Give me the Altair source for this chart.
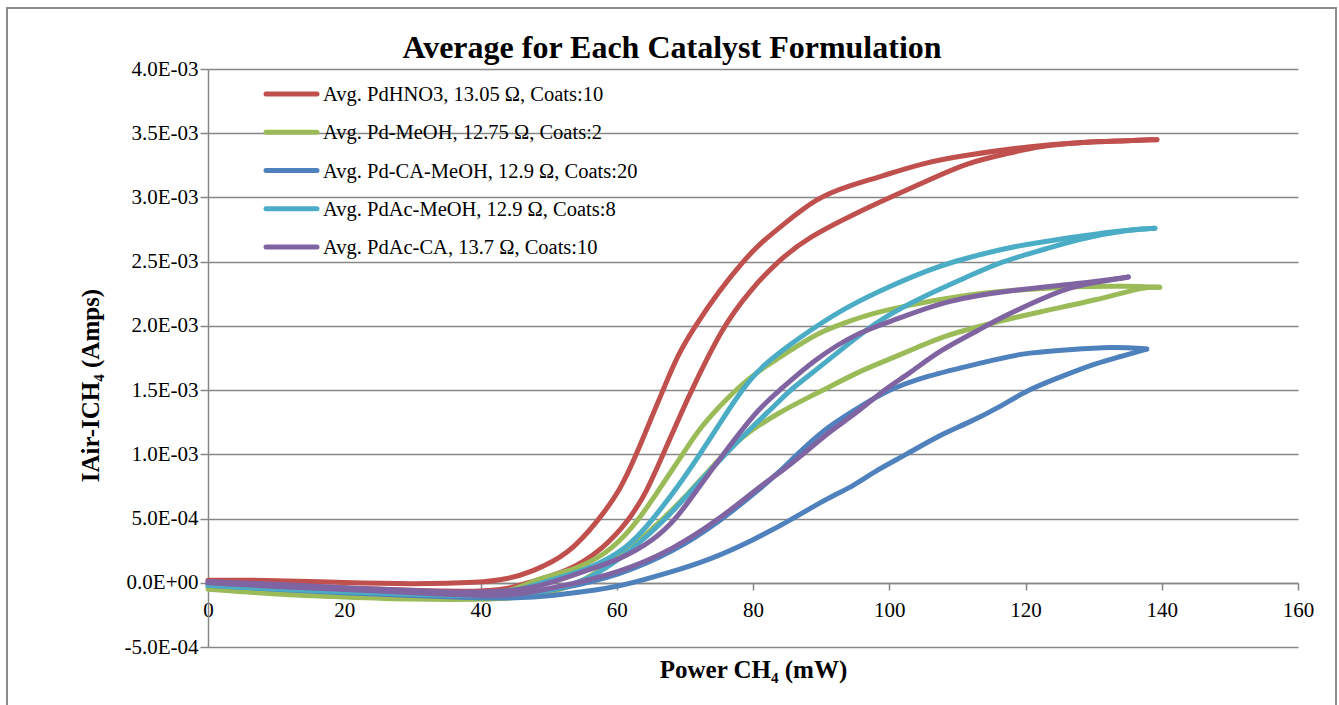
import altair as alt
import pandas as pd

# ---- data (current in mA, converted to A below) ----
chart_title = ["Average for Each Catalyst Formulation"]
series_names = [
    "Avg. PdHNO3, 13.05 Ω, Coats:10",
    "Avg. Pd-MeOH, 12.75 Ω, Coats:2",
    "Avg. Pd-CA-MeOH, 12.9 Ω, Coats:20",
    "Avg. PdAc-MeOH, 12.9 Ω, Coats:8",
    "Avg. PdAc-CA, 13.7 Ω, Coats:10",
]
series_colors = ["#C0504D", "#9BBB59", "#4F81BD", "#4BACC6", "#8064A2"]
legend_rank = [0, 1, 2, 3, 4]

red_a_x = [0, 10, 20, 30, 40, 44, 47.3, 53, 57.5, 60.5, 62.9, 65.6, 66.8, 69, 71.5, 75, 78.5, 81, 84, 89.4, 94, 98.6, 105, 111.4, 120.7, 128, 134, 139.3]
red_a_y = [0.02, 0.02, 0.0, -0.01, 0.0, 0.03, 0.08, 0.22, 0.5, 0.72, 1.0, 1.35, 1.5, 1.78, 2.0, 2.27, 2.5, 2.64, 2.77, 3.0, 3.09, 3.16, 3.27, 3.33, 3.40, 3.43, 3.44, 3.45]
red_b_x = [0, 10, 20, 30, 40, 44, 46.8, 52.6, 58, 62, 64.5, 66.8, 69.7, 71, 75.6, 79.5, 83.5, 88.4, 95.2, 100.1, 106, 111.4, 117.2, 122, 128, 134, 139.3]
red_b_y = [0.0, -0.02, -0.04, -0.06, -0.07, -0.05, 0.0, 0.08, 0.26, 0.5, 0.72, 1.0, 1.35, 1.5, 2.0, 2.27, 2.5, 2.70, 2.88, 3.0, 3.14, 3.27, 3.34, 3.40, 3.43, 3.44, 3.45]

green_a_x = [0, 10, 20, 30, 40, 45, 48.7, 54.1, 59.5, 63.4, 66.5, 69.7, 72.2, 76.6, 80, 84, 87, 89.8, 93.8, 97, 102.6, 109.9, 118.2, 128, 135, 139.7]
green_a_y = [-0.03, -0.06, -0.09, -0.10, -0.10, -0.06, 0.04, 0.1, 0.26, 0.5, 0.75, 1.0, 1.21, 1.46, 1.62, 1.76, 1.86, 1.95, 2.03, 2.09, 2.16, 2.23, 2.28, 2.31, 2.31, 2.30]
green_b_x = [0, 10, 20, 30, 40, 45, 50, 55, 62, 66.8, 69.8, 75.6, 79.1, 84, 88, 90.3, 95.4, 98.6, 104.5, 107.4, 113.3, 122, 130.4, 137.8, 139.7]
green_b_y = [-0.05, -0.09, -0.11, -0.13, -0.13, -0.12, -0.08, 0.0, 0.26, 0.5, 0.65, 1.0, 1.17, 1.33, 1.44, 1.5, 1.64, 1.71, 1.84, 1.91, 2.0, 2.11, 2.20, 2.31, 2.30]

blue_a_x = [0, 10, 20, 30, 40, 45, 51.7, 60.5, 68.3, 75.2, 81, 84, 85.9, 90.3, 94.2, 99.6, 105.5, 113.3, 119.7, 125.5, 132.9, 137.8]
blue_a_y = [-0.01, -0.04, -0.06, -0.08, -0.10, -0.10, -0.05, 0.06, 0.24, 0.48, 0.73, 0.87, 0.97, 1.19, 1.32, 1.5, 1.61, 1.71, 1.79, 1.81, 1.84, 1.82]
blue_b_x = [0, 10, 20, 30, 40, 45, 50.7, 55, 60.5, 67.8, 73.7, 80, 85.9, 91.3, 94.7, 98.2, 102.6, 107, 111.4, 116.3, 120.2, 125.5, 130.4, 133.9, 137.8]
blue_b_y = [-0.02, -0.05, -0.08, -0.10, -0.12, -0.12, -0.1, -0.07, -0.03, 0.08, 0.18, 0.33, 0.5, 0.67, 0.75, 0.88, 1.0, 1.14, 1.24, 1.37, 1.5, 1.61, 1.71, 1.76, 1.82]

cyan_a_x = [0, 10, 20, 30, 40, 45, 50.7, 55.6, 61.5, 65.4, 69, 72.2, 75, 77.8, 81, 86.4, 88.8, 93.8, 100.1, 106, 109.4, 115.8, 120.7, 128, 135.3, 139]
cyan_a_y = [0.0, -0.03, -0.05, -0.07, -0.09, -0.07, 0.03, 0.1, 0.26, 0.5, 0.75, 1.0, 1.23, 1.46, 1.68, 1.89, 1.98, 2.15, 2.31, 2.44, 2.5, 2.59, 2.64, 2.70, 2.75, 2.76]
cyan_b_x = [0, 10, 20, 30, 40, 50, 56, 62.4, 67.3, 71.5, 75.9, 80, 84, 85.4, 89.8, 94.7, 98.6, 105, 111.4, 116.3, 123.1, 128, 135.3, 139]
cyan_b_y = [-0.02, -0.05, -0.07, -0.09, -0.11, -0.07, 0.02, 0.26, 0.5, 0.75, 1.0, 1.22, 1.42, 1.5, 1.68, 1.89, 2.05, 2.23, 2.38, 2.5, 2.60, 2.68, 2.75, 2.76]

purple_a_x = [0, 10, 20, 30, 40, 48, 54.6, 60.5, 65.4, 68.8, 72, 75.6, 81, 84, 88.8, 95.3, 101.1, 108.4, 118.2, 128, 135.1]
purple_a_y = [0.01, -0.01, -0.04, -0.06, -0.08, -0.05, 0.08, 0.18, 0.33, 0.5, 0.74, 1.0, 1.37, 1.5, 1.73, 1.95, 2.05, 2.20, 2.28, 2.33, 2.38]
purple_b_x = [0, 10, 20, 30, 40, 45, 51.7, 60.5, 68.3, 75.2, 81, 84, 87.4, 91, 95.2, 99.1, 103, 107.4, 113.3, 115.8, 121.1, 126.5, 132.9, 135.1]
purple_b_y = [0.0, -0.03, -0.05, -0.08, -0.10, -0.10, -0.03, 0.08, 0.26, 0.5, 0.75, 0.86, 1.0, 1.17, 1.32, 1.5, 1.63, 1.81, 1.97, 2.05, 2.18, 2.31, 2.36, 2.38]

branches = [
    (series_names[0], "a", red_a_x, red_a_y), (series_names[0], "b", red_b_x, red_b_y),
    (series_names[1], "a", green_a_x, green_a_y), (series_names[1], "b", green_b_x, green_b_y),
    (series_names[2], "a", blue_a_x, blue_a_y), (series_names[2], "b", blue_b_x, blue_b_y),
    (series_names[3], "a", cyan_a_x, cyan_a_y), (series_names[3], "b", cyan_b_x, cyan_b_y),
    (series_names[4], "a", purple_a_x, purple_a_y), (series_names[4], "b", purple_b_x, purple_b_y),
]

rows = []
for name, br, xs, ys in branches:
    for i, (xv, yv) in enumerate(zip(xs, ys)):
        rows.append({"series": name, "branch": name + br, "power": xv,
                     "current": yv * 1e-3, "idx": i})
df = pd.DataFrame(rows)
legend_df = pd.DataFrame({"series": series_names, "rank": legend_rank})

y_ticks = [-0.0005, 0.0, 0.0005, 0.001, 0.0015, 0.002, 0.0025, 0.003, 0.0035, 0.004]
x_ticks = [0, 20, 40, 60, 80, 100, 120, 140, 160]

FONT = "Liberation Serif"
GRAY = "#878787"

exp_expr = "floor(log(abs(datum.value))/LN10 + 1e-9)"
label_expr = (
    "datum.value == 0 ? '0.0E+00' : (datum.value < 0 ? '-' : '') + "
    "format(abs(datum.value) / pow(10, " + exp_expr + "), '.1f') + 'E' + ("
    + exp_expr + " < 0 ? '-' : '+') + format(abs(" + exp_expr + "), '02d')"
)

color_enc = alt.Color("series:N", scale=alt.Scale(domain=series_names, range=series_colors),
                      legend=None)

lines = alt.Chart(df).mark_line(strokeWidth=5, strokeCap="round", strokeJoin="round",
                                interpolate="basis").encode(
    x=alt.X("power:Q", scale=alt.Scale(domain=[0, 160], nice=False),
            axis=alt.Axis(values=x_ticks, title="Power CH₄ (mW)", offset=-64, grid=False,
                          tickSize=7, labelPadding=9, labelFlush=False, titleX=545, titleY=94,
                          titleAlign="center", titleBaseline="alphabetic",
                          titleFontSize=25)),
    y=alt.Y("current:Q", scale=alt.Scale(domain=[-0.0005, 0.004], nice=False, zero=False),
            axis=alt.Axis(values=y_ticks, labelExpr=label_expr, title="IAir-ICH₄ (Amps)",
                          tickSize=8, labelPadding=2, labelFlush=False, titleAngle=270,
                          titleX=-110, titleY=316,
                          titleAlign="center", titleBaseline="alphabetic", titleFontSize=25)),
    color=color_enc,
    detail="branch:N",
    order="idx:Q",
)

leg_y = alt.Y("rank:Q", scale=alt.Scale(domain=[0, 4], range=[25, 178]), axis=None)
legend_lines = alt.Chart(legend_df).mark_rule(strokeWidth=5, strokeCap="round").encode(
    x=alt.value(58), x2=alt.value(109), y=leg_y, color=color_enc,
)
legend_text = alt.Chart(legend_df).mark_text(
    font=FONT, fontSize=20.5, color="black", align="left", baseline="middle", dy=1
).encode(x=alt.value(115), y=leg_y, text="series:N")
legend_layer = alt.layer(legend_lines, legend_text)

frame = alt.Chart(pd.DataFrame({"k": [0]})).mark_rect(
    fill=None, stroke="#8c8c8c", strokeWidth=2
).encode(x=alt.value(-201), x2=alt.value(1128), y=alt.value(-61), y2=alt.value(700))

title_layer = alt.Chart(pd.DataFrame({"t": chart_title})).mark_text(
    font=FONT, fontSize=32, fontWeight="bold", color="black", align="center",
    baseline="alphabetic"
).encode(text="t:N", x=alt.value(464), y=alt.value(-11))

chart = alt.layer(frame, lines, legend_layer, title_layer).resolve_scale(
    y="independent"
).properties(
    width=1090, height=578,
    padding={"left": 6, "top": 7, "right": 2, "bottom": 0},
    background="white",
).configure(font=FONT).configure_view(stroke=None).configure_axis(
    labelFont=FONT, labelFontSize=21, labelColor="black",
    titleFont=FONT, titleColor="black", titleFontWeight="bold",
    tickColor=GRAY, tickWidth=1.5, domainColor=GRAY, domainWidth=1.5,
    gridColor=GRAY, gridWidth=1.5, gridOpacity=1,
)

chart.save("out.html", embed_options={"renderer": "svg", "actions": False})
